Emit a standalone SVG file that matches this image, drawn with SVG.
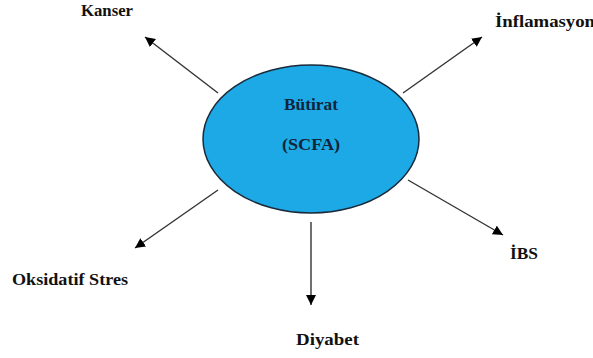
<svg xmlns="http://www.w3.org/2000/svg" width="593" height="358" viewBox="0 0 593 358">
<style>
.t{font-family:'Liberation Serif','DejaVu Serif',serif;font-weight:700;font-size:17px;fill:#111}
.c{font-family:'Liberation Serif','DejaVu Serif',serif;font-weight:700;font-size:17px;fill:#10243a}
.e{stroke:#333;stroke-width:1.4;fill:none;marker-end:url(#ah)}
</style>
<defs>
<marker id="ah" viewBox="0 0 10 10" refX="10" refY="5" markerWidth="10" markerHeight="10" markerUnits="userSpaceOnUse" orient="auto">
<path d="M0,0 L10,5 L0,10 Z" fill="#000"/>
</marker>
</defs>
<rect width="593" height="358" fill="#fff"/>
<g id="connectors">
<line class="e" x1="218" y1="93" x2="145" y2="37"/>
<line class="e" x1="403" y1="93" x2="482" y2="37"/>
<line class="e" x1="218" y1="190" x2="135" y2="248"/>
<line class="e" x1="408" y1="180" x2="503" y2="235"/>
<line class="e" x1="311" y1="222" x2="311" y2="305"/>
</g>
<g id="center">
<ellipse cx="311" cy="139" rx="108" ry="74" fill="#1ca9e6" stroke="#1b2a3a" stroke-width="1.5"/>
<text class="c" x="284" y="110" textLength="54" lengthAdjust="spacingAndGlyphs">Bütirat</text>
<text class="c" x="282" y="150" textLength="58" lengthAdjust="spacingAndGlyphs">(SCFA)</text>
</g>
<g id="kanser"><text class="t" x="81" y="16" textLength="52" lengthAdjust="spacingAndGlyphs">Kanser</text></g>
<g id="inflamasyon"><text class="t" x="495" y="27" textLength="100" lengthAdjust="spacingAndGlyphs">İnflamasyon</text></g>
<g id="oksidatif"><text class="t" x="12" y="285" textLength="116" lengthAdjust="spacingAndGlyphs">Oksidatif Stres</text></g>
<g id="ibs"><text class="t" x="510" y="259" textLength="28" lengthAdjust="spacingAndGlyphs">İBS</text></g>
<g id="diyabet"><text class="t" x="296" y="345" textLength="63" lengthAdjust="spacingAndGlyphs">Diyabet</text></g>
</svg>
